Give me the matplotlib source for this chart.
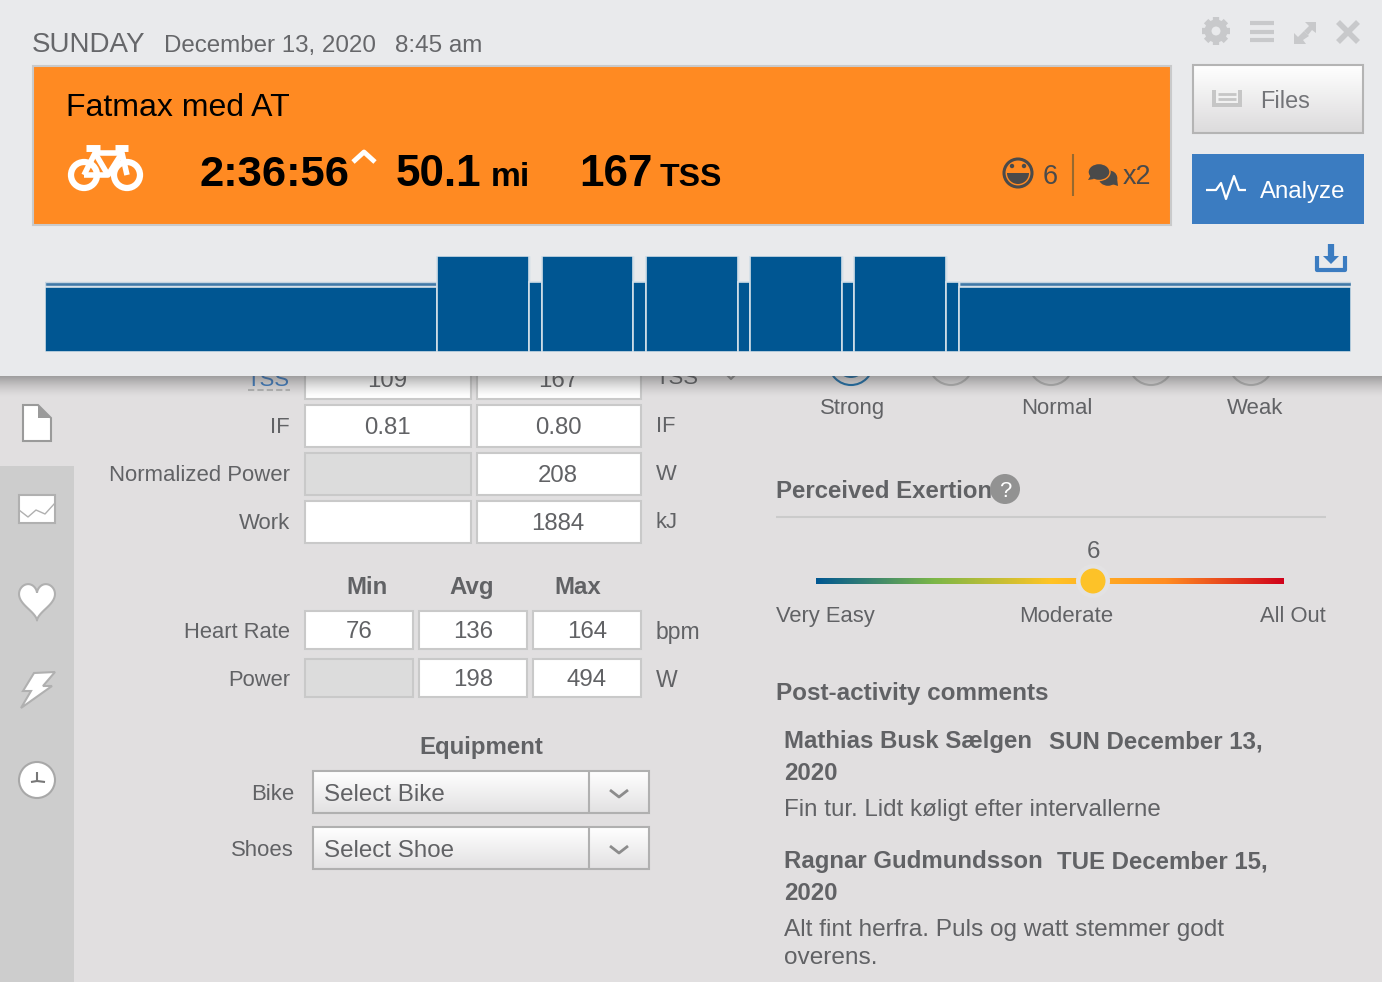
import numpy as np
import matplotlib
matplotlib.use('Agg')
import matplotlib.pyplot as plt
from matplotlib.colors import LinearSegmentedColormap
from matplotlib.patches import Circle, Ellipse, Polygon, Rectangle, Wedge

plt.rcParams['font.family'] = ['Liberation Sans', 'DejaVu Sans']

W, H = 1382, 982
GREY = '#616265'

# workout steps, minutes and % of the top intensity
step_minutes = [47, 11, 1.5, 11, 1.5, 11, 1.5, 11, 1.5, 11, 1.5, 47]
step_intensity = [73, 100, 73, 100, 73, 100, 73, 100, 73, 100, 73, 73]
solid_intensity = [67.5, 100, 73, 100, 73, 100, 73, 100, 73, 100, 73, 67.5]

summary_labels = ['TSS', 'IF', 'Normalized Power', 'Work']
summary_planned = ['109', '0.81', '', '']
summary_completed = ['167', '0.80', '208', '1884']
summary_units = ['TSS', 'IF', 'W', 'kJ']

range_labels = ['Heart Rate', 'Power']
range_min = ['76', '']
range_avg = ['136', '198']
range_max = ['164', '494']
range_units = ['bpm', 'W']

feel_labels = ['Strong', 'Normal', 'Weak']
rpe_labels = ['Very Easy', 'Moderate', 'All Out']

fig = plt.figure(figsize=(W / 100, H / 100), dpi=100)
ax = fig.add_axes([0, 0, 1, 1])
ax.set_xlim(0, W)
ax.set_ylim(H, 0)
ax.axis('off')


def txt(x, y, s, px, color=GREY, ha='left', weight='normal', z=3):
    ax.text(x, y, s, fontsize=px * 0.72, color=color, ha=ha, va='baseline', fontweight=weight, zorder=z)


def box(x0, y0, x1, y1, face='white', edge='#c9c9c9', lw=1.5, z=2):
    ax.add_patch(Rectangle((x0, y0), x1 - x0, y1 - y0, facecolor=face, edgecolor=edge, linewidth=lw, zorder=z))


def vgrad(x0, y0, x1, y1, top, bottom, z=2):
    cm = LinearSegmentedColormap.from_list('g', [top, bottom])
    ax.imshow(np.linspace(0, 1, 64).reshape(-1, 1), cmap=cm, extent=(x0, x1, y1, y0), aspect='auto', zorder=z)


def line(xs, ys, color, lw, z=3, **kw):
    ax.plot(xs, ys, color=color, linewidth=lw, zorder=z, solid_capstyle=kw.pop('cap', 'butt'), **kw)


# page background and side bar
ax.add_patch(Rectangle((0, 0), W, H, facecolor='#e1dfe0', edgecolor='none', zorder=0))
ax.add_patch(Rectangle((0, 466), 74, H - 466, facecolor='#cdcdcd', edgecolor='none', zorder=1))

# summary table
row_base = [387, 434, 482, 530]
row_top = [357, 405, 453, 501]
for i, lab in enumerate(summary_labels):
    t = row_top[i]
    txt(290, row_base[i] - 1, lab, 22.2, color='#3f7cc0' if i == 0 else GREY, ha='right')
    box(305, t, 471, t + 42, face='#dcdcdc' if lab == 'Normalized Power' else 'white')
    box(477, t, 641, t + 42)
    txt(387, row_base[i], summary_planned[i], 24, ha='center')
    txt(558, row_base[i], summary_completed[i], 24, ha='center')
    if i != 1:
        txt(656, row_base[i] - 2 - (1 if i == 0 else 0), summary_units[i], 22)
txt(656, 432, 'IF', 22)
line([248, 290], [390, 390], '#b4b4b4', 1.5, ls=(0, (3, 1.5)))
line([727, 731, 735], [375, 379, 375], '#8f8f8f', 1.5)

# min / avg / max table
for x, s in zip([367, 472, 578], ['Min', 'Avg', 'Max']):
    txt(x, 594, s, 24, ha='center', weight='bold')
for i, lab in enumerate(range_labels):
    t = 611 + i * 48
    b = t + 38
    txt(290, b - 11, lab, 22, ha='right')
    box(305, t, 413, b, face='#dcdcdc' if range_min[i] == '' else 'white')
    box(419, t, 527, b)
    box(533, t, 641, b)
    txt(359, b - 11, range_min[i], 24, ha='center')
    txt(473, b - 11, range_avg[i], 24, ha='center')
    txt(587, b - 11, range_max[i], 24, ha='center')
    txt(656, b - 10, range_units[i], 23)

# equipment
txt(481, 754, 'Equipment', 24, ha='center', weight='bold')
for y, lab, val in [(771, 'Bike', 'Select Bike'), (827, 'Shoes', 'Select Shoe')]:
    txt(294, y + 29, lab, 22.2, ha='right')
    vgrad(313, y, 649, y + 42, '#ffffff', '#e2e1e2')
    box(313, y, 649, y + 42, face='none', edge='#b0b0b0', z=3)
    line([589, 589], [y, y + 42], '#b0b0b0', 1.5)
    txt(324, y + 30, val, 24.1)
    line([610, 619, 628], [y + 19, y + 26, y + 19], '#8c8c8c', 2)

# feel
for x in [851, 951, 1051, 1151, 1251]:
    ax.add_patch(Circle((x, 363), 22, facecolor='none', edgecolor='#1f6fa8' if x == 851 else '#b5b5b5', linewidth=1.5, zorder=2))
ax.add_patch(Circle((851, 363), 15, facecolor='#1f6fa8', edgecolor='none', zorder=2))
for x, s in zip([852.5, 1057, 1255], feel_labels):
    txt(x, 414, s, 22.2, ha='center')

# perceived exertion
txt(776, 498, 'Perceived Exertion', 24, weight='bold')
ax.add_patch(Circle((1005, 489), 15, facecolor='#929292', edgecolor='none', zorder=3))
txt(1005, 497, '?', 22, color='white', ha='center', z=4)
line([776, 1326], [517, 517], '#cbcbcb', 1.5)
txt(1093, 558, '6', 24, ha='center')
rpe_cm = LinearSegmentedColormap.from_list('rpe', [(0, '#005792'), (0.25, '#7ab648'), (0.5, '#ffc425'), (0.75, '#ff8c21'), (1, '#d0021b')])
ax.imshow(np.linspace(0, 1, 256).reshape(1, -1), cmap=rpe_cm, extent=(816, 1284, 584, 578), aspect='auto', zorder=2)
ax.add_patch(Circle((1093, 581), 17, facecolor='#e3e2e3', edgecolor='none', zorder=3))
ax.add_patch(Circle((1093, 581), 12.5, facecolor='#fdc228', edgecolor='none', zorder=4))
txt(776, 622, rpe_labels[0], 22)
txt(1066, 622, rpe_labels[1], 22.3, ha='center')
txt(1326, 622, rpe_labels[2], 22, ha='right')

# comments
txt(776, 700, 'Post-activity comments', 24.2, weight='bold')
txt(784, 748, 'Mathias Busk Sælgen', 24, weight='bold')
txt(1049, 748, 'SUN December 13,', 24, weight='bold')
txt(784, 780, '2020', 24, weight='bold')
txt(784, 816, 'Fin tur. Lidt køligt efter intervallerne', 24.1)
txt(784, 868, 'Ragnar Gudmundsson', 24, weight='bold')
txt(1057, 868, 'TUE December 15,', 24, weight='bold')
txt(784, 900, '2020', 24, weight='bold')
txt(784, 936, 'Alt fint herfra. Puls og watt stemmer godt', 24.4)
txt(784, 964, 'overens.', 24.4)

# side bar icons
ico = '#9a9a9a'
ax.add_patch(Polygon([(23, 405), (38, 405), (51, 418), (51, 441), (23, 441)], facecolor='white', edgecolor=ico, linewidth=1.5, zorder=3))
ax.add_patch(Polygon([(38, 405), (51, 418), (38, 418)], facecolor=ico, edgecolor='none', zorder=4))
box(19, 495, 55, 523, edge='#b0b0b0', lw=1.5, z=3)
line([19, 28, 36, 45, 55], [510, 517, 510, 514, 503], '#b0b0b0', 1, z=4)
# heart outline
th = np.linspace(0, 2 * np.pi, 80)
hx = 37 + 18 * np.sin(th) ** 3
hy = 599 - 1.25 * (13 * np.cos(th) - 5 * np.cos(2 * th) - 2 * np.cos(3 * th) - np.cos(4 * th))
ax.add_patch(Polygon(np.column_stack([hx, hy]), facecolor='white', edgecolor='#b0b0b0', linewidth=1.5, zorder=3))
ax.add_patch(Polygon([(34, 673), (55, 672), (43, 686), (52, 686), (21, 708), (31, 691), (23, 691)], facecolor='white', edgecolor='#b0b0b0', linewidth=1.5, zorder=3))
ax.add_patch(Circle((37, 780), 18, facecolor='white', edgecolor='#a8a8a8', linewidth=1.5, zorder=3))
line([37, 37], [772, 781], '#777777', 1.5, z=4)
line([31, 37, 45], [782, 781, 782], '#777777', 1.5, z=4)

# shadow under the header
shadow = np.zeros((32, 1, 4))
shadow[:, 0, :3] = 0.25
shadow[:, 0, 3] = np.linspace(0.55, 0, 32) ** 1.5
ax.imshow(shadow, extent=(0, W, 398, 376), aspect='auto', zorder=5)

# header panel
ax.add_patch(Rectangle((0, 0), W, 376, facecolor='#e9eaec', edgecolor='none', zorder=6))
Z = 7
txt(32, 52, 'SUNDAY', 27.8, color='#66676a', z=Z)
txt(164, 52, 'December 13, 2020', 24.1, color='#66676a', z=Z)
txt(395, 52, '8:45 am', 24.2, color='#66676a', z=Z)

ax.add_patch(Rectangle((33, 65.5), 1138, 159, facecolor='#ff8a22', edgecolor='#c9cacb', linewidth=1.5, zorder=Z))
txt(66, 116, 'Fatmax med AT', 32, color='black', z=Z + 1)
txt(200, 186, '2:36:56', 43.5, color='black', weight='bold', z=Z + 1)
txt(396, 186, '50.1', 44, color='black', weight='bold', z=Z + 1)
txt(491, 186, 'mi', 33.5, color='black', weight='bold', z=Z + 1)
txt(579, 186, '167', 44, color='black', weight='bold', z=Z + 1)
txt(660, 186, 'TSS', 32, color='black', weight='bold', z=Z + 1)
line([353, 364, 375], [162, 152, 162], 'white', 3.5, z=Z + 1)

# bike icon
for cx in [84, 127]:
    ax.add_patch(Circle((cx, 175), 13, facecolor='none', edgecolor='white', linewidth=4.5, zorder=Z + 1))
line([84, 95, 122, 127], [175, 153, 153, 175], 'white', 4, z=Z + 1)
line([84, 108, 122], [175, 175, 153], 'white', 4, z=Z + 1)
line([95, 108], [153, 175], 'white', 4, z=Z + 1)
line([86, 100], [148, 148], 'white', 5, z=Z + 1)
line([115, 128], [148, 148], 'white', 5, z=Z + 1)

# smiley, comment count
dark = '#4a4a4a'
ax.add_patch(Circle((1018, 173), 14, facecolor='none', edgecolor=dark, linewidth=2.2, zorder=Z + 1))
ax.add_patch(Wedge((1018, 173), 11, 0, 180, facecolor=dark, edgecolor='none', zorder=Z + 1))
ax.add_patch(Circle((1012, 166), 2.2, facecolor=dark, edgecolor='none', zorder=Z + 1))
ax.add_patch(Circle((1024, 166), 2.2, facecolor=dark, edgecolor='none', zorder=Z + 1))
txt(1050, 184, '6', 27, color=dark, ha='center', z=Z + 1)
line([1073, 1073], [154, 196], '#96692f', 1.5, z=Z + 1)
ax.add_patch(Ellipse((1108, 178), 20, 17, facecolor=dark, edgecolor='#ff8a22', linewidth=1, zorder=Z + 1))
ax.add_patch(Polygon([(1112, 184), (1118, 186), (1117, 178)], facecolor=dark, edgecolor='none', zorder=Z + 1))
ax.add_patch(Ellipse((1099, 172), 22, 17, facecolor=dark, edgecolor='#ff8a22', linewidth=1, zorder=Z + 2))
ax.add_patch(Polygon([(1088, 180), (1094, 179), (1091, 175)], facecolor=dark, edgecolor='none', zorder=Z + 2))
txt(1123, 184, 'x2', 27, color=dark, z=Z + 1)

# Files / Analyze buttons
vgrad(1193, 65, 1363, 133, '#ffffff', '#dcdbdc', z=Z)
box(1193, 65, 1363, 133, face='none', edge='#b4b4b4', z=Z + 1)
ax.add_patch(Rectangle((1212, 90), 30, 17, facecolor='#c6c6c6', edgecolor='none', zorder=Z + 1))
ax.add_patch(Rectangle((1216, 90), 22, 13, facecolor='#f1f1f1', edgecolor='none', zorder=Z + 2))
line([1218, 1236], [94, 94], '#c6c6c6', 2, z=Z + 3)
line([1218, 1236], [99, 99], '#c6c6c6', 2, z=Z + 3)
txt(1260, 108, 'Files', 23.5, color='#737478', z=Z + 1)
ax.add_patch(Rectangle((1192, 154), 172, 70, facecolor='#3b7cc1', edgecolor='none', zorder=Z))
line([1206, 1216, 1221, 1226, 1234, 1239, 1246], [190, 190, 183, 199, 176, 190, 190], 'white', 1.6, z=Z + 1)
txt(1260, 198, 'Analyze', 24, color='white', z=Z + 1)

# window controls
lg = '#c8c9cb'
ax.add_patch(Circle((1216, 31), 8, facecolor='none', edgecolor=lg, linewidth=5, zorder=Z))
for a in np.arange(0, 360, 45):
    ca, sa = np.cos(np.radians(a)), np.sin(np.radians(a))
    line([1216 + 10 * ca, 1216 + 14 * ca], [31 + 10 * sa, 31 + 14 * sa], lg, 4.5, z=Z)
for y in [23, 31.5, 40]:
    line([1250, 1274], [y, y], lg, 3, z=Z)
ax.add_patch(Polygon([(1294, 44), (1294, 33), (1298, 37), (1304, 31), (1309, 36), (1303, 40), (1306, 44)], facecolor=lg, edgecolor='none', zorder=Z))
ax.add_patch(Polygon([(1316, 22), (1305, 22), (1309, 26), (1304, 31), (1308, 35), (1312, 30), (1316, 33)], facecolor=lg, edgecolor='none', zorder=Z))
line([1338, 1358], [22, 42], lg, 4, z=Z)
line([1358, 1338], [22, 42], lg, 4, z=Z)

# download icon
blue = '#3b7cc1'
line([1317.5, 1317.5, 1345, 1345], [256, 270, 270, 256], blue, 3, z=Z)
line([1331, 1331], [244, 258], blue, 4.5, z=Z)
ax.add_patch(Polygon([(1323, 256), (1339, 256), (1331, 264)], facecolor=blue, edgecolor='none', zorder=Z))

# workout chart, own axes in minutes / intensity
chart = fig.add_axes([45 / W, 1 - 352 / H, 1306 / W, 96 / H], zorder=2)
chart.patch.set_alpha(0)
chart.axis('off')
chart.set_xlim(0, sum(step_minutes))
chart.set_ylim(0, 100)
starts = np.cumsum([0] + step_minutes[:-1])
chart.bar(starts, step_intensity, step_minutes, align='edge', color='#4079a8', edgecolor='#c3d3e0', linewidth=1)
chart.bar(starts, [s + 1.5 if s < 70 else s for s in solid_intensity], step_minutes, align='edge', color='#dfe7ee', edgecolor='#dfe7ee', linewidth=1)
chart.bar(starts, solid_intensity, step_minutes, align='edge', color='#005692', edgecolor='#d3dfe8', linewidth=1.2)

fig.savefig('out.png', dpi=100)
